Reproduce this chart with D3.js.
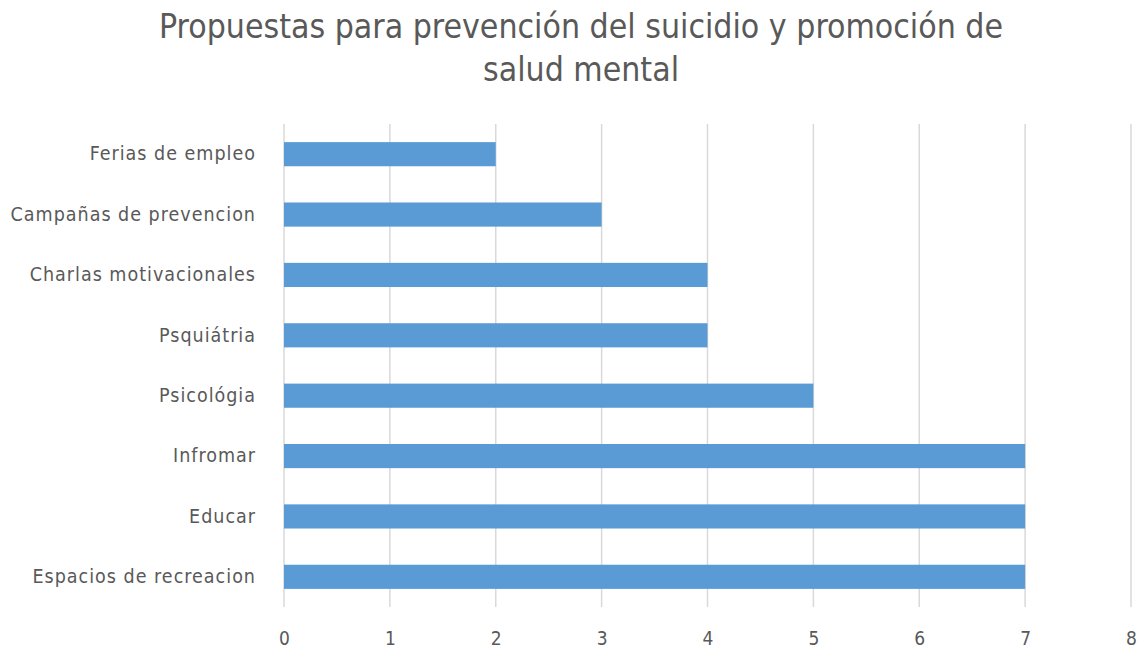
<!DOCTYPE html>
<html>
<head>
<meta charset="utf-8">
<script src="https://cdn.jsdelivr.net/npm/d3@7"></script>
<style>
  html, body { margin: 0; padding: 0; background: #fff; }
  svg { display: block; }
</style>
</head>
<body>
<svg id="chart" width="1138" height="650"></svg>
<script>
// Proposals, listed top to bottom as shown in the chart
const categories = [
  "Ferias de empleo",
  "Campañas de prevencion",
  "Charlas motivacionales",
  "Psquiátria",
  "Psicológia",
  "Infromar",
  "Educar",
  "Espacios de recreacion"
];
const values = [2, 3, 4, 4, 5, 7, 7, 7];
const xTicks = [0, 1, 2, 3, 4, 5, 6, 7, 8];
const titleLines = ["Propuestas para prevención del suicidio y promoción de", "salud mental"];

const svg = d3.select("#chart");
const font = "'Liberation Sans Narrow', 'DejaVu Sans Condensed', 'Open Sans', sans-serif";
const textColor = "#595959";
const gridColor = "#d9d9d9";
const barColor = "#5b9bd5";

const plot = { left: 284, right: 1131, top: 124, bottom: 607 };

const x = d3.scaleLinear().domain([0, 8]).range([plot.left, plot.right]);
const y = d3.scaleBand().domain(categories).range([plot.top, plot.bottom]).paddingInner(0.6).paddingOuter(0.3);

// Title
svg.append("g").selectAll("text").data(titleLines).join("text")
  .attr("x", 581)
  .attr("y", (d, i) => 38 + i * 43)
  .attr("text-anchor", "middle")
  .attr("font-family", font)
  .attr("font-size", 33.5)
  .attr("fill", textColor)
  .text(d => d);

// Vertical gridlines
svg.append("g").selectAll("line").data(xTicks).join("line")
  .attr("x1", d => x(d)).attr("x2", d => x(d))
  .attr("y1", plot.top).attr("y2", plot.bottom)
  .attr("stroke", gridColor)
  .attr("stroke-width", 1.5);

// Bars
svg.append("g").selectAll("rect").data(values).join("rect")
  .attr("x", x(0))
  .attr("y", (d, i) => y(categories[i]))
  .attr("width", d => x(d) - x(0))
  .attr("height", y.bandwidth())
  .attr("fill", barColor);

// X axis labels
const xAxis = d3.axisBottom(x).tickValues(xTicks).tickSize(0).tickPadding(0).tickFormat(d3.format("d"));
const gx = svg.append("g").attr("transform", `translate(0, ${plot.bottom + 24})`).call(xAxis);
gx.select(".domain").remove();
gx.selectAll("text")
  .attr("font-family", font)
  .attr("font-size", 19)
  .attr("fill", textColor);

// Y axis labels
const yAxis = d3.axisLeft(y).tickSize(0).tickPadding(0);
const gy = svg.append("g").attr("transform", `translate(${plot.left - 28}, 0)`).call(yAxis);
gy.select(".domain").remove();
gy.selectAll("text")
  .attr("font-family", font)
  .attr("font-size", 19.5)
  .attr("letter-spacing", 1)
  .attr("fill", textColor);
</script>
</body>
</html>
